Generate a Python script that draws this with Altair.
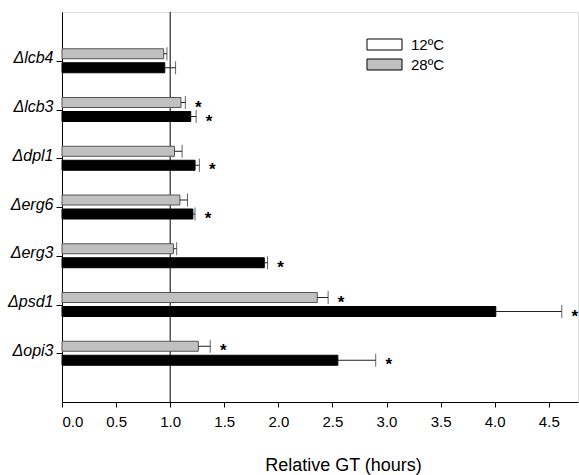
import altair as alt
import pandas as pd

genes = ["Δlcb4", "Δlcb3", "Δdpl1", "Δerg6", "Δerg3", "Δpsd1", "Δopi3"]
positions = [1, 2, 3, 4, 5, 6, 7]
gray_vals = [0.94, 1.10, 1.04, 1.09, 1.03, 2.36, 1.26]
gray_err = [0.03, 0.04, 0.07, 0.07, 0.03, 0.10, 0.11]
gray_sig = [False, True, False, False, False, True, True]
black_vals = [0.95, 1.19, 1.23, 1.21, 1.87, 4.01, 2.55]
black_err = [0.10, 0.05, 0.04, 0.02, 0.03, 0.61, 0.35]
black_sig = [False, True, True, True, True, True, True]
legend_labels = ["12ºC", "28ºC"]
legend_fills = ["white", "#c0c0c0"]
x_ticks = [0, 0.5, 1, 1.5, 2, 2.5, 3, 3.5, 4, 4.5]

FONT = "Liberation Sans"


def frame(vals, errs, sigs):
    return pd.DataFrame({
        "gene": genes,
        "pos": positions,
        "value": vals,
        "zero": [0] * len(vals),
        "hi": [v + e for v, e in zip(vals, errs)],
        "star": ["*" if s else "" for s in sigs],
    })


gray_df = frame(gray_vals, gray_err, gray_sig)
black_df = frame(black_vals, black_err, black_sig)

label_expr = "[''," + ",".join("'" + g + "'" for g in genes) + ",''][datum.value]"

x_scale = alt.Scale(domain=[0, 4.77], nice=False, zero=True, padding=0)
y_scale = alt.Scale(domain=[0, 8], reverse=True, nice=False, zero=False, padding=0)

x_axis = alt.Axis(
    values=x_ticks, format=".1f", grid=False, domainColor="black", tickColor="black",
    tickSize=5, labelFont=FONT, labelFontSize=15, labelColor="black", labelPadding=7,
    title="Relative GT (hours)", titleFont=FONT, titleFontSize=18, titleFontWeight="normal",
    titleColor="black", titleX=281, titleY=68, titleBaseline="alphabetic",
)
y_axis = alt.Axis(
    values=positions, labelExpr=label_expr, grid=False, domainColor="black", tickColor="black",
    tickSize=6, labelFont=FONT, labelFontSize=16, labelFontStyle="italic", labelColor="black",
    labelPadding=3, labelBaseline="alphabetic", labelOffset=2, title=None,
)


def series_layers(df, fill, stroke, off):
    base = alt.Chart(df)
    bar = base.mark_bar(orient="horizontal", height=10, yOffset=off, fill=fill, stroke=stroke,
                        strokeWidth=1).encode(
        x=alt.X("value:Q", scale=x_scale, axis=x_axis),
        x2="zero:Q",
        y=alt.Y("pos:Q", scale=y_scale, axis=y_axis),
    )
    err = base.mark_rule(yOffset=off, color="#222", strokeWidth=1).encode(
        x="value:Q", x2="hi:Q", y="pos:Q"
    )
    cap = base.mark_tick(orient="vertical", size=13, thickness=1, yOffset=off, color="#222").encode(
        x="hi:Q", y="pos:Q"
    )
    star = base.mark_text(
        font=FONT, fontSize=17, fontWeight="bold", align="center", baseline="alphabetic",
        dx=13, dy=off + 10, color="black",
    ).encode(x="hi:Q", y="pos:Q", text="star:N")
    return [bar, err, cap, star]


ref = alt.Chart(pd.DataFrame({"x": [1]})).mark_rule(color="black", strokeWidth=1).encode(x="x:Q")

legend_df = pd.DataFrame({"series": legend_labels, "x": [0, 0], "y": [0, 0]})
legend_layer = alt.Chart(legend_df).mark_point(opacity=0, filled=True).encode(
    x="x:Q",
    y="y:Q",
    fill=alt.Fill(
        "series:N",
        scale=alt.Scale(domain=legend_labels, range=legend_fills),
        legend=alt.Legend(
            title=None, orient="none", legendX=315, legendY=25,
            symbolType="M-7,-2.2H7V2.2H-7Z", symbolSize=25,
            symbolStrokeColor="black", symbolStrokeWidth=1, symbolOpacity=1,
            labelFont=FONT, labelFontSize=15, labelColor="black", labelOffset=19,
            rowPadding=4, padding=0,
        ),
    ),
)

layers = [ref] + series_layers(gray_df, "#c0c0c0", "#555", -7) + series_layers(black_df, "black", "black", 7) + [legend_layer]

chart = alt.layer(*layers).properties(
    width=516, height=390,
    autosize=alt.AutoSizeParams(type="none"),
    padding={"left": 62, "top": 12, "right": 1, "bottom": 73},
).configure_view(stroke=None).configure(background="white")

chart.save("out.html", embed_options={"renderer": "svg", "actions": False})
